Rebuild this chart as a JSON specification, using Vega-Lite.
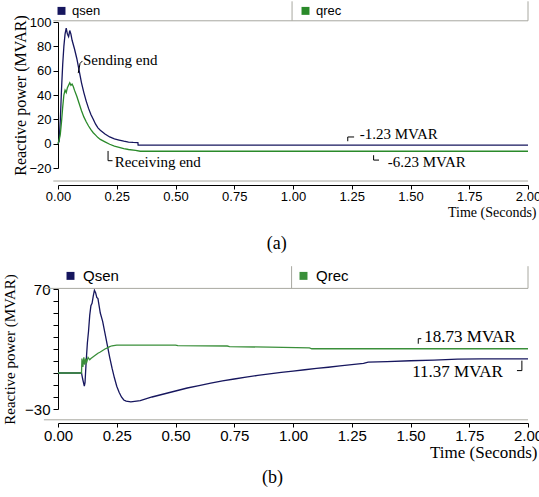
{
  "$schema": "https://vega.github.io/schema/vega-lite/v6.json",
  "background": "white",
  "padding": {"left": 2, "top": 0, "right": 0, "bottom": 0},
  "spacing": 12,
  "columns": 1,
  "resolve": {"scale": {"color": "independent"}, "legend": {"color": "independent"}},
  "config": {"view": {"stroke": null}, "axis": {"grid": false, "domainColor": "black", "tickColor": "black", "labelColor": "black", "titleColor": "black", "titleFontWeight": "normal", "labelOverlap": false}},
  "datasets": {
    "a": [
      {"t": 0, "v": 0, "s": "qsen"}, {"t": 0.005, "v": 2, "s": "qsen"}, {"t": 0.01, "v": 20, "s": "qsen"}, {"t": 0.015, "v": 45, "s": "qsen"}, {"t": 0.02, "v": 65, "s": "qsen"}, {"t": 0.025, "v": 80, "s": "qsen"}, {"t": 0.03, "v": 90, "s": "qsen"}, {"t": 0.035, "v": 95, "s": "qsen"}, {"t": 0.04, "v": 90, "s": "qsen"}, {"t": 0.045, "v": 88, "s": "qsen"}, {"t": 0.05, "v": 93, "s": "qsen"}, {"t": 0.055, "v": 90, "s": "qsen"}, {"t": 0.06, "v": 85, "s": "qsen"}, {"t": 0.07, "v": 78, "s": "qsen"}, {"t": 0.08, "v": 70, "s": "qsen"}, {"t": 0.09, "v": 60, "s": "qsen"}, {"t": 0.1, "v": 50, "s": "qsen"}, {"t": 0.11, "v": 42, "s": "qsen"}, {"t": 0.12, "v": 35, "s": "qsen"}, {"t": 0.13, "v": 29, "s": "qsen"}, {"t": 0.14, "v": 24, "s": "qsen"}, {"t": 0.15, "v": 20, "s": "qsen"}, {"t": 0.16, "v": 16, "s": "qsen"}, {"t": 0.17, "v": 13, "s": "qsen"}, {"t": 0.18, "v": 11, "s": "qsen"}, {"t": 0.2, "v": 8, "s": "qsen"}, {"t": 0.22, "v": 5.5, "s": "qsen"}, {"t": 0.24, "v": 4, "s": "qsen"}, {"t": 0.26, "v": 3, "s": "qsen"}, {"t": 0.28, "v": 2, "s": "qsen"}, {"t": 0.3, "v": 1.2, "s": "qsen"}, {"t": 0.32, "v": 1, "s": "qsen"}, {"t": 0.34, "v": 0.9, "s": "qsen"}, {"t": 0.341, "v": -1.23, "s": "qsen"}, {"t": 2.0, "v": -1.23, "s": "qsen"},
      {"t": 0, "v": 0, "s": "qrec"}, {"t": 0.005, "v": 3, "s": "qrec"}, {"t": 0.01, "v": 8, "s": "qrec"}, {"t": 0.015, "v": 18, "s": "qrec"}, {"t": 0.02, "v": 30, "s": "qrec"}, {"t": 0.025, "v": 40, "s": "qrec"}, {"t": 0.03, "v": 44, "s": "qrec"}, {"t": 0.035, "v": 42, "s": "qrec"}, {"t": 0.04, "v": 46, "s": "qrec"}, {"t": 0.045, "v": 48, "s": "qrec"}, {"t": 0.05, "v": 50, "s": "qrec"}, {"t": 0.055, "v": 48, "s": "qrec"}, {"t": 0.06, "v": 49, "s": "qrec"}, {"t": 0.065, "v": 47, "s": "qrec"}, {"t": 0.07, "v": 44, "s": "qrec"}, {"t": 0.08, "v": 39, "s": "qrec"}, {"t": 0.09, "v": 33, "s": "qrec"}, {"t": 0.1, "v": 27, "s": "qrec"}, {"t": 0.11, "v": 22, "s": "qrec"}, {"t": 0.12, "v": 18, "s": "qrec"}, {"t": 0.13, "v": 14.5, "s": "qrec"}, {"t": 0.14, "v": 11.5, "s": "qrec"}, {"t": 0.15, "v": 9, "s": "qrec"}, {"t": 0.16, "v": 7, "s": "qrec"}, {"t": 0.17, "v": 5, "s": "qrec"}, {"t": 0.18, "v": 3.5, "s": "qrec"}, {"t": 0.2, "v": 1.5, "s": "qrec"}, {"t": 0.22, "v": -0.5, "s": "qrec"}, {"t": 0.24, "v": -2, "s": "qrec"}, {"t": 0.26, "v": -3, "s": "qrec"}, {"t": 0.28, "v": -4, "s": "qrec"}, {"t": 0.3, "v": -4.8, "s": "qrec"}, {"t": 0.33, "v": -5.5, "s": "qrec"}, {"t": 0.35, "v": -6.23, "s": "qrec"}, {"t": 2.0, "v": -6.23, "s": "qrec"}
    ],
    "aText": [
      {"t": 0.106, "v": 68.5, "label": "Sending end"},
      {"t": 0.241, "v": -15, "label": "Receiving end"},
      {"t": 1.284, "v": 8, "label": "-1.23 MVAR"},
      {"t": 1.403, "v": -15, "label": "-6.23 MVAR"}
    ],
    "aLead": [
      {"t": 0.086, "v": 58, "t2": 0.094, "v2": 66},
      {"t": 0.094, "v": 66, "t2": 0.104, "v2": 68},
      {"t": 0.213, "v": -6, "t2": 0.213, "v2": -14},
      {"t": 0.213, "v": -14, "t2": 0.232, "v2": -14},
      {"t": 1.233, "v": 2, "t2": 1.233, "v2": 5.5},
      {"t": 1.233, "v": 5.5, "t2": 1.26, "v2": 5.5},
      {"t": 1.343, "v": -9.5, "t2": 1.343, "v2": -13.5},
      {"t": 1.343, "v": -13.5, "t2": 1.366, "v2": -13.5}
    ],
    "b": [
      {"t": 0, "v": 0, "s": "Qsen"}, {"t": 0.1, "v": 0, "s": "Qsen"}, {"t": 0.105, "v": -5, "s": "Qsen"}, {"t": 0.112, "v": -11, "s": "Qsen"}, {"t": 0.115, "v": -8, "s": "Qsen"}, {"t": 0.12, "v": 10, "s": "Qsen"}, {"t": 0.125, "v": 25, "s": "Qsen"}, {"t": 0.13, "v": 35, "s": "Qsen"}, {"t": 0.135, "v": 48, "s": "Qsen"}, {"t": 0.14, "v": 56, "s": "Qsen"}, {"t": 0.145, "v": 58, "s": "Qsen"}, {"t": 0.15, "v": 64, "s": "Qsen"}, {"t": 0.155, "v": 69, "s": "Qsen"}, {"t": 0.16, "v": 67, "s": "Qsen"}, {"t": 0.165, "v": 63, "s": "Qsen"}, {"t": 0.17, "v": 62, "s": "Qsen"}, {"t": 0.175, "v": 56, "s": "Qsen"}, {"t": 0.18, "v": 50, "s": "Qsen"}, {"t": 0.19, "v": 43, "s": "Qsen"}, {"t": 0.2, "v": 33, "s": "Qsen"}, {"t": 0.21, "v": 23, "s": "Qsen"}, {"t": 0.22, "v": 13, "s": "Qsen"}, {"t": 0.23, "v": 4, "s": "Qsen"}, {"t": 0.24, "v": -4, "s": "Qsen"}, {"t": 0.25, "v": -11, "s": "Qsen"}, {"t": 0.26, "v": -16, "s": "Qsen"}, {"t": 0.27, "v": -20, "s": "Qsen"}, {"t": 0.28, "v": -22.5, "s": "Qsen"}, {"t": 0.29, "v": -23.5, "s": "Qsen"}, {"t": 0.31, "v": -24, "s": "Qsen"}, {"t": 0.35, "v": -23, "s": "Qsen"}, {"t": 0.4, "v": -20, "s": "Qsen"}, {"t": 0.45, "v": -17.5, "s": "Qsen"}, {"t": 0.5, "v": -15, "s": "Qsen"}, {"t": 0.55, "v": -12.5, "s": "Qsen"}, {"t": 0.6, "v": -10.5, "s": "Qsen"}, {"t": 0.65, "v": -8.5, "s": "Qsen"}, {"t": 0.7, "v": -6.5, "s": "Qsen"}, {"t": 0.75, "v": -5, "s": "Qsen"}, {"t": 0.8, "v": -3.5, "s": "Qsen"}, {"t": 0.85, "v": -2, "s": "Qsen"}, {"t": 0.9, "v": -0.8, "s": "Qsen"}, {"t": 0.95, "v": 0.5, "s": "Qsen"}, {"t": 1.0, "v": 1.5, "s": "Qsen"}, {"t": 1.05, "v": 2.7, "s": "Qsen"}, {"t": 1.1, "v": 3.8, "s": "Qsen"}, {"t": 1.15, "v": 4.8, "s": "Qsen"}, {"t": 1.2, "v": 6, "s": "Qsen"}, {"t": 1.25, "v": 7, "s": "Qsen"}, {"t": 1.3, "v": 8, "s": "Qsen"}, {"t": 1.32, "v": 9, "s": "Qsen"}, {"t": 1.4, "v": 9.5, "s": "Qsen"}, {"t": 1.5, "v": 10.2, "s": "Qsen"}, {"t": 1.6, "v": 10.8, "s": "Qsen"}, {"t": 1.7, "v": 11.5, "s": "Qsen"}, {"t": 1.8, "v": 11.8, "s": "Qsen"}, {"t": 2.0, "v": 11.8, "s": "Qsen"},
      {"t": 0, "v": 0, "s": "Qrec"}, {"t": 0.1, "v": 0, "s": "Qrec"}, {"t": 0.102, "v": 12, "s": "Qrec"}, {"t": 0.106, "v": 5, "s": "Qrec"}, {"t": 0.11, "v": 13, "s": "Qrec"}, {"t": 0.114, "v": 7, "s": "Qrec"}, {"t": 0.118, "v": 12, "s": "Qrec"}, {"t": 0.122, "v": 9, "s": "Qrec"}, {"t": 0.128, "v": 13, "s": "Qrec"}, {"t": 0.135, "v": 11, "s": "Qrec"}, {"t": 0.14, "v": 12, "s": "Qrec"}, {"t": 0.15, "v": 13.5, "s": "Qrec"}, {"t": 0.16, "v": 15, "s": "Qrec"}, {"t": 0.17, "v": 16.5, "s": "Qrec"}, {"t": 0.18, "v": 17.5, "s": "Qrec"}, {"t": 0.19, "v": 18.8, "s": "Qrec"}, {"t": 0.2, "v": 20, "s": "Qrec"}, {"t": 0.21, "v": 21, "s": "Qrec"}, {"t": 0.22, "v": 22, "s": "Qrec"}, {"t": 0.23, "v": 22.7, "s": "Qrec"}, {"t": 0.25, "v": 23.3, "s": "Qrec"}, {"t": 0.5, "v": 23.3, "s": "Qrec"}, {"t": 0.51, "v": 22.8, "s": "Qrec"}, {"t": 0.72, "v": 22.5, "s": "Qrec"}, {"t": 0.73, "v": 22, "s": "Qrec"}, {"t": 0.9, "v": 21.5, "s": "Qrec"}, {"t": 1.07, "v": 21, "s": "Qrec"}, {"t": 1.08, "v": 20.2, "s": "Qrec"}, {"t": 2.0, "v": 20.2, "s": "Qrec"}
    ],
    "bText": [
      {"t": 1.559, "v": 29.7, "label": "18.73 MVAR"},
      {"t": 1.507, "v": 0.5, "label": "11.37 MVAR"}
    ],
    "bLead": [
      {"t": 1.533, "v": 24.4, "t2": 1.533, "v2": 28.6},
      {"t": 1.533, "v": 28.6, "t2": 1.546, "v2": 28.6},
      {"t": 1.974, "v": 10.3, "t2": 1.974, "v2": 2},
      {"t": 1.953, "v": 2, "t2": 1.974, "v2": 2}
    ]
  },
  "concat": [
    {
      "width": 470,
      "height": 146,
      "title": {"text": "(a)", "orient": "bottom", "frame": "bounds", "anchor": "middle", "font": "Liberation Serif", "fontSize": 18, "fontWeight": "normal", "offset": 16, "color": "black"},
      "resolve": {"axis": {"x": "independent", "y": "independent"}},
      "layer": [
        {
          "data": {"name": "a"},
          "mark": {"type": "line", "strokeWidth": 1.3},
          "encoding": {
            "x": {"field": "t", "type": "quantitative", "scale": {"domain": [0, 2], "nice": false, "zero": false},
              "axis": {"values": [0, 0.25, 0.5, 0.75, 1, 1.25, 1.5, 1.75, 2], "format": ".2f", "labelFont": "Liberation Sans", "labelFontSize": 13, "tickSize": 4, "offset": 17, "labelPadding": 1, "labelFlush": false, "labelOverlap": false,
                "title": "Time (Seconds)", "titleFont": "Liberation Serif", "titleFontSize": 14, "titleAnchor": "end", "titleAlign": "right", "titleX": 478, "titlePadding": 2}},
            "y": {"field": "v", "type": "quantitative", "scale": {"domain": [-20, 100], "nice": false, "zero": false},
              "axis": {"values": [-20, 0, 20, 40, 60, 80, 100], "labelFont": "Liberation Sans", "labelFontSize": 13, "tickSize": 5, "labelPadding": 2, "labelOverlap": false, "labelBound": false,
                "title": "Reactive power (MVAR)", "titleFont": "Liberation Serif", "titleFontSize": 16, "titlePadding": 0}},
            "color": {"field": "s", "type": "nominal", "scale": {"domain": ["qsen", "qrec"], "range": ["#16165e", "#2a8a2a"]},
              "legend": {"orient": "none", "legendX": -3, "legendY": -18, "direction": "horizontal", "title": null, "symbolType": "square", "symbolSize": 12, "symbolStrokeWidth": 4.5, "labelFont": "Liberation Sans", "labelFontSize": 13, "labelColor": "black", "columnPadding": 193, "labelOffset": 4}},
            "order": {"field": "t", "type": "quantitative"}
          }
        },
        {
          "data": {"values": [{}]},
          "mark": {"type": "rule", "color": "#a8a8a0", "strokeWidth": 1},
          "encoding": {
            "x": {"datum": -0.02, "type": "quantitative", "axis": null},
            "x2": {"datum": 2.0},
            "y": {"datum": 101, "type": "quantitative", "axis": null}
          }
        },
        {
          "data": {"values": [{}]},
          "mark": {"type": "rule", "color": "#a8a8a0", "strokeWidth": 1},
          "encoding": {
            "x": {"datum": -0.02, "type": "quantitative", "axis": null},
            "x2": {"datum": 2.0},
            "y": {"datum": -30.7, "type": "quantitative", "axis": null}
          }
        },
        {
          "data": {"values": [{}]},
          "mark": {"type": "rule", "color": "#a8a8a0", "strokeWidth": 1},
          "encoding": {
            "x": {"datum": 2.0, "type": "quantitative", "axis": null},
            "y": {"datum": 101, "type": "quantitative", "axis": null},
            "y2": {"datum": 117}
          }
        },
        {
          "data": {"values": [{}]},
          "mark": {"type": "rule", "color": "#a8a8a0", "strokeWidth": 1},
          "encoding": {
            "x": {"datum": 0.996, "type": "quantitative", "axis": null},
            "y": {"datum": 101, "type": "quantitative", "axis": null},
            "y2": {"datum": 117}
          }
        },
        {
          "data": {"name": "aLead"},
          "mark": {"type": "rule", "color": "black", "strokeWidth": 1},
          "encoding": {
            "x": {"field": "t", "type": "quantitative", "axis": null},
            "x2": {"field": "t2"},
            "y": {"field": "v", "type": "quantitative", "axis": null},
            "y2": {"field": "v2"}
          }
        },
        {
          "data": {"name": "aText"},
          "mark": {"type": "text", "align": "left", "baseline": "middle", "font": "Liberation Serif", "fontSize": 15, "color": "black"},
          "encoding": {
            "x": {"field": "t", "type": "quantitative", "axis": null},
            "y": {"field": "v", "type": "quantitative", "axis": null},
            "text": {"field": "label"}
          }
        }
      ]
    },
    {
      "width": 470,
      "height": 120,
      "title": {"text": "(b)", "orient": "bottom", "frame": "bounds", "anchor": "middle", "font": "Liberation Serif", "fontSize": 18, "fontWeight": "normal", "offset": 9, "color": "black"},
      "resolve": {"axis": {"x": "independent", "y": "independent"}},
      "layer": [
        {
          "data": {"name": "b"},
          "mark": {"type": "line", "strokeWidth": 1.3},
          "encoding": {
            "x": {"field": "t", "type": "quantitative", "scale": {"domain": [0, 2], "nice": false, "zero": false},
              "axis": {"values": [0, 0.25, 0.5, 0.75, 1, 1.25, 1.5, 1.75, 2], "format": ".2f", "labelFont": "Liberation Sans", "labelFontSize": 15, "tickSize": 4, "offset": 14, "labelPadding": 1, "labelFlush": false, "labelOverlap": false,
                "title": "Time (Seconds)", "titleFont": "Liberation Serif", "titleFontSize": 17, "titleAnchor": "end", "titleAlign": "right", "titleX": 479, "titlePadding": 1}},
            "y": {"field": "v", "type": "quantitative", "scale": {"domain": [-30, 70], "nice": false, "zero": false},
              "axis": {"values": [-30, -20, -10, 0, 10, 20, 30, 40, 50, 60, 70], "labelExpr": "datum.value == 70 || datum.value == -30 ? datum.label : ''", "labelFont": "Liberation Sans", "labelFontSize": 15, "tickSize": 5, "labelPadding": 3, "labelOverlap": false, "labelBound": false,
                "title": "Reactive power (MVAR)", "titleFont": "Liberation Serif", "titleFontSize": 15, "titlePadding": 7}},
            "color": {"field": "s", "type": "nominal", "scale": {"domain": ["Qsen", "Qrec"], "range": ["#16165e", "#3a8f3a"]},
              "legend": {"orient": "none", "legendX": 5, "legendY": -21, "direction": "horizontal", "title": null, "symbolType": "square", "symbolSize": 12, "symbolStrokeWidth": 4.5, "labelFont": "Liberation Sans", "labelFontSize": 15, "labelColor": "black", "columnPadding": 173, "labelOffset": 5}},
            "order": {"field": "t", "type": "quantitative"}
          }
        },
        {
          "data": {"values": [{}]},
          "mark": {"type": "rule", "color": "#a8a8a0", "strokeWidth": 1},
          "encoding": {
            "x": {"datum": -0.06, "type": "quantitative", "axis": null},
            "x2": {"datum": 2.0},
            "y": {"datum": 70.5, "type": "quantitative", "axis": null}
          }
        },
        {
          "data": {"values": [{}]},
          "mark": {"type": "rule", "color": "#a8a8a0", "strokeWidth": 1},
          "encoding": {
            "x": {"datum": -0.06, "type": "quantitative", "axis": null},
            "x2": {"datum": 2.0},
            "y": {"datum": -39, "type": "quantitative", "axis": null}
          }
        },
        {
          "data": {"values": [{}]},
          "mark": {"type": "rule", "color": "#a8a8a0", "strokeWidth": 1},
          "encoding": {
            "x": {"datum": 2.0, "type": "quantitative", "axis": null},
            "y": {"datum": 70.5, "type": "quantitative", "axis": null},
            "y2": {"datum": 89}
          }
        },
        {
          "data": {"values": [{}]},
          "mark": {"type": "rule", "color": "#a8a8a0", "strokeWidth": 1},
          "encoding": {
            "x": {"datum": 0.994, "type": "quantitative", "axis": null},
            "y": {"datum": 70.5, "type": "quantitative", "axis": null},
            "y2": {"datum": 89}
          }
        },
        {
          "data": {"name": "bLead"},
          "mark": {"type": "rule", "color": "black", "strokeWidth": 1},
          "encoding": {
            "x": {"field": "t", "type": "quantitative", "axis": null},
            "x2": {"field": "t2"},
            "y": {"field": "v", "type": "quantitative", "axis": null},
            "y2": {"field": "v2"}
          }
        },
        {
          "data": {"name": "bText"},
          "mark": {"type": "text", "align": "left", "baseline": "middle", "font": "Liberation Serif", "fontSize": 17, "color": "black"},
          "encoding": {
            "x": {"field": "t", "type": "quantitative", "axis": null},
            "y": {"field": "v", "type": "quantitative", "axis": null},
            "text": {"field": "label"}
          }
        }
      ]
    }
  ]
}
